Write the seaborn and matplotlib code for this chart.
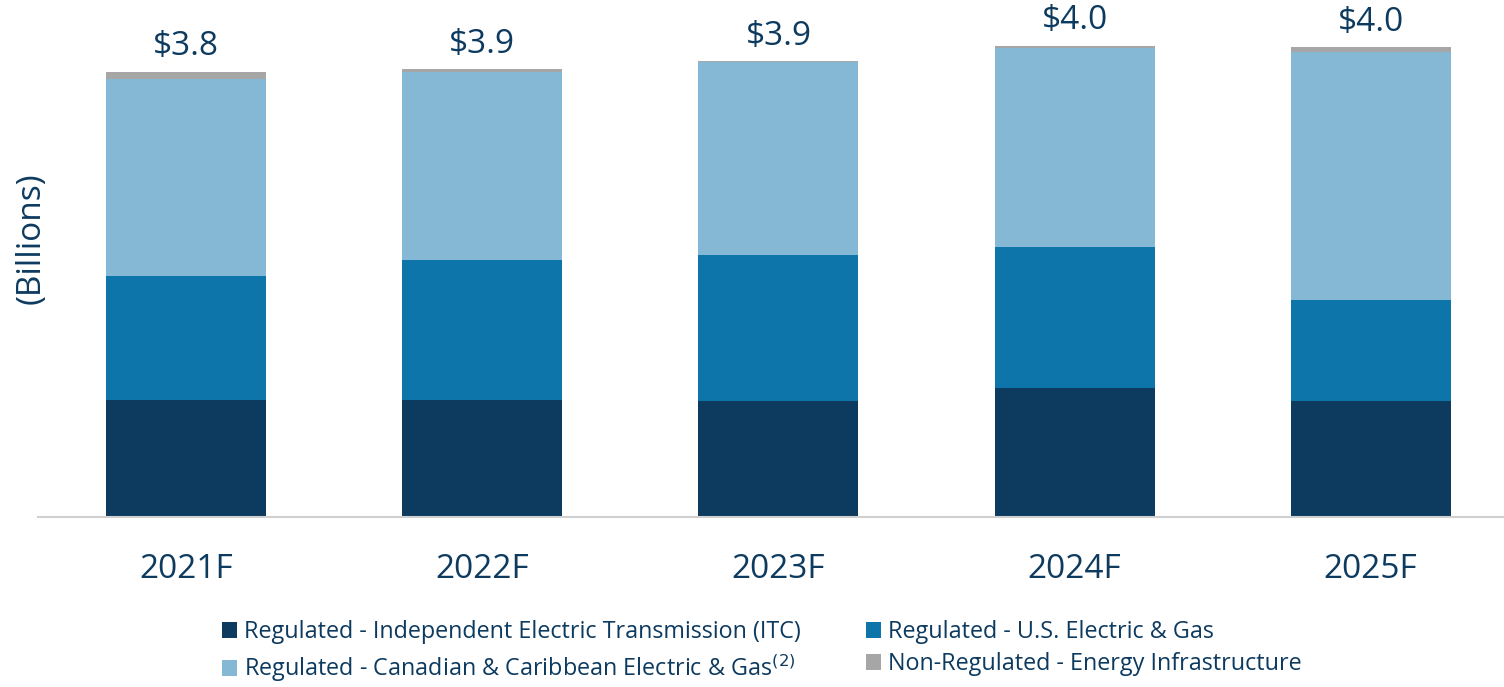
import matplotlib
matplotlib.use("Agg")
import matplotlib.pyplot as plt
import seaborn as sns
import pandas as pd
import numpy as np
from matplotlib.patches import Patch

years = ["2021F", "2022F", "2023F", "2024F", "2025F"]
itc = [1.00, 1.00, 0.99, 1.10, 0.99]
us = [1.05, 1.19, 1.24, 1.20, 0.86]
can = [1.68, 1.60, 1.64, 1.69, 2.11]
nonreg = [0.06, 0.02, 0.01, 0.02, 0.04]
total_labels = ["$3.8", "$3.9", "$3.9", "$4.0", "$4.0"]

series_names = ["Regulated - Independent Electric Transmission (ITC)",
                "Regulated - U.S. Electric & Gas",
                "Regulated - Canadian & Caribbean Electric & Gas$^{(2)}$",
                "Non-Regulated - Energy Infrastructure"]
colors = ["#0D3A5F", "#0E75AA", "#85B8D5", "#A6A6A6"]
text_color = "#0D3A5F"

sns.set_theme(style="white")
plt.rcParams['font.family'] = ['Open Sans', 'DejaVu Sans']

df = pd.DataFrame({"year": years, "itc": itc, "us": us, "can": can, "nonreg": nonreg})
df["c1"] = df["itc"]
df["c2"] = df["c1"] + df["us"]
df["c3"] = df["c2"] + df["can"]
df["c4"] = df["c3"] + df["nonreg"]

fig = plt.figure(figsize=(15.04, 6.87), dpi=100)
ax = fig.add_axes([38/1504, (687-517)/687, (1504-38)/1504, 507/687])

for col, color in zip(["c4", "c3", "c2", "c1"], colors[::-1]):
    sns.barplot(data=df, x="year", y=col, color=color, width=0.54,
                linewidth=0, saturation=1, ax=ax)

for i, (lab, tot) in enumerate(zip(total_labels, df["c4"])):
    ax.annotate(lab, (i, tot), xytext=(0, 6), textcoords="offset points",
                ha="center", va="bottom", fontsize=24, color=text_color)

ax.set_xlim(-0.5, 4.45)
ax.set_ylim(0, 507/117.5)
ax.set_yticks([])
ax.set_xlabel("")
ax.set_ylabel("")
fig.text(31/1504, 1 - 238/687, "(Billions)", rotation=90, ha="center",
         va="center", fontsize=24, color=text_color)
for s in ["top", "right", "left"]:
    ax.spines[s].set_visible(False)
ax.spines["bottom"].set_color("#D0D0D0")
ax.spines["bottom"].set_linewidth(1.5)
ax.tick_params(axis="x", labelsize=24, labelcolor=text_color, pad=26, length=0)

order = [0, 2, 1, 3]
handles = [Patch(facecolor=colors[k], edgecolor="none") for k in order]
labels = [series_names[k] for k in order]
leg = fig.legend(handles, labels, ncol=2, loc="center left",
                 bbox_to_anchor=(201/1504, 1 - 652/687), frameon=False,
                 fontsize=16.8, handlelength=0.65, handleheight=0.65,
                 handletextpad=0.3, columnspacing=2.8, labelspacing=0.35)
for t in leg.get_texts():
    t.set_color(text_color)

fig.savefig("out.png", dpi=100)
